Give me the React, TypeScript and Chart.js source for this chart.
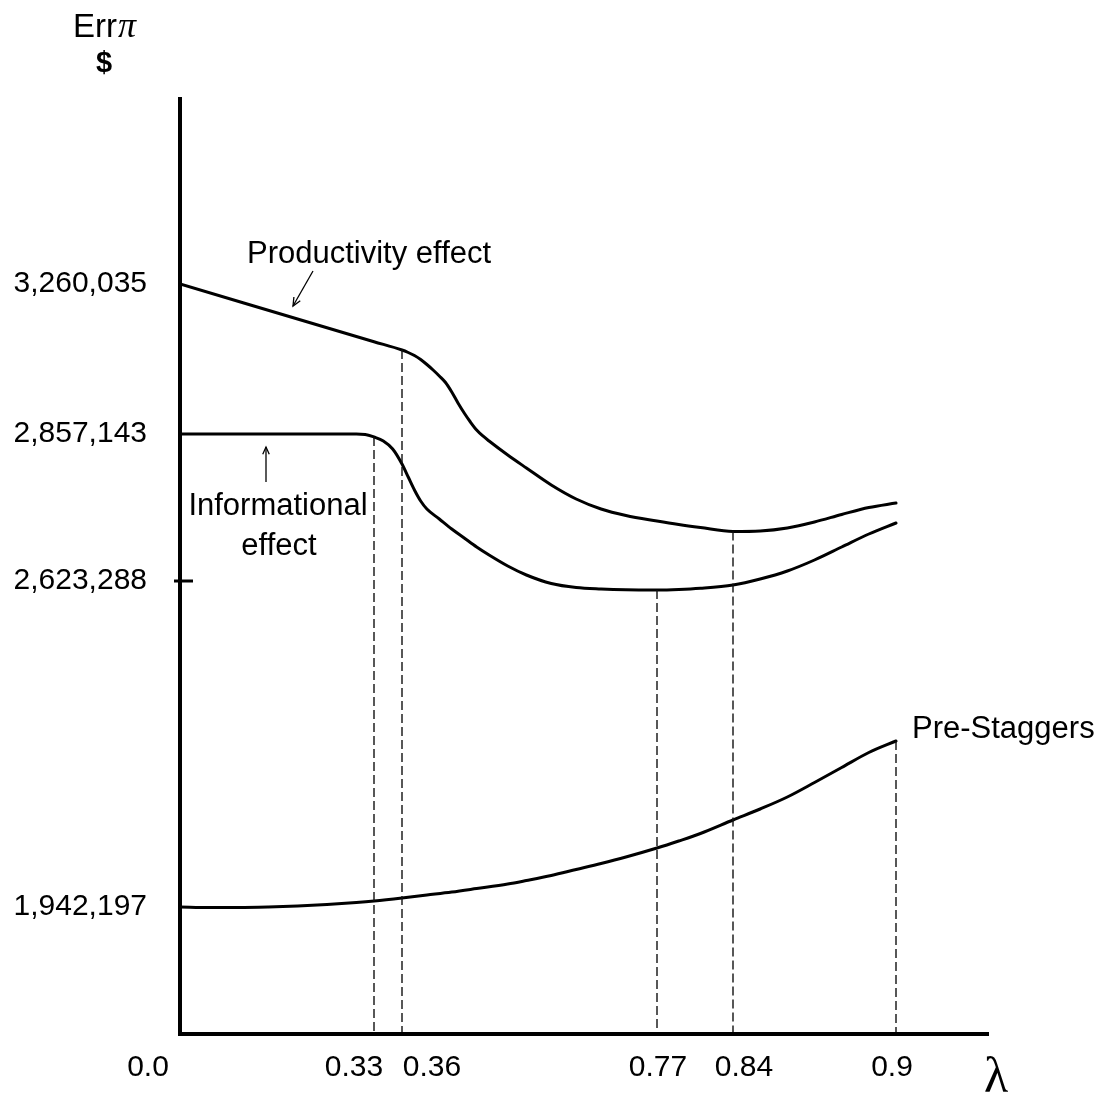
import React, { useEffect, useRef } from 'react';
import { Chart, LinearScale, registerables } from 'chart.js';

// ---------------- data ----------------
const productivityLambda = [0, 0.33, 0.36, 0.37, 0.38, 0.39, 0.40, 0.41, 0.42, 0.43, 0.44, 0.45, 0.46, 0.47, 0.48, 0.49, 0.50, 0.53, 0.56, 0.60, 0.64, 0.68, 0.72, 0.77, 0.79, 0.81, 0.84, 0.85, 0.86, 0.87, 0.88, 0.89, 0.90];
const productivityValues = [3260035, 3105061, 3082767, 3076052, 3067994, 3057250, 3043820, 3029047, 3012931, 2995472, 2969955, 2940409, 2913549, 2889375, 2867887, 2853969, 2846014, 2823741, 2803060, 2776014, 2753742, 2737833, 2727492, 2718742, 2713174, 2708401, 2702038, 2702833, 2707606, 2717151, 2729083, 2740219, 2747378];

const informationalLambda = [0, 0.30, 0.315, 0.33, 0.34, 0.35, 0.36, 0.37, 0.38, 0.39, 0.40, 0.42, 0.44, 0.46, 0.48, 0.50, 0.53, 0.56, 0.60, 0.64, 0.68, 0.72, 0.77, 0.79, 0.81, 0.84, 0.85, 0.86, 0.87, 0.88, 0.89, 0.90];
const informationalValues = [2857143, 2857143, 2856514, 2852378, 2846014, 2833287, 2809423, 2788742, 2768060, 2750560, 2737833, 2721924, 2706015, 2691697, 2677379, 2664651, 2647152, 2632833, 2618053, 2609696, 2606563, 2604891, 2604473, 2605518, 2608025, 2614919, 2626470, 2639197, 2656697, 2677379, 2698060, 2715560];

const preStaggersLambda = [0, 0.05, 0.10, 0.15, 0.20, 0.25, 0.30, 0.33, 0.36, 0.40, 0.44, 0.48, 0.53, 0.56, 0.60, 0.64, 0.68, 0.72, 0.77, 0.79, 0.81, 0.84, 0.85, 0.86, 0.87, 0.88, 0.89, 0.90];
const preStaggersValues = [1942197, 1941152, 1941152, 1942197, 1944286, 1947420, 1951598, 1954732, 1961000, 1967267, 1973535, 1980847, 1990249, 1997561, 2008007, 2020542, 2033077, 2046657, 2065460, 2080084, 2095753, 2123957, 2146939, 2172009, 2202303, 2233641, 2264979, 2289004];

const markerLambda = [0.33, 0.36, 0.77, 0.84, 0.9];
const markerSeries = ['informational', 'productivity', 'informational', 'productivity', 'preStaggers'];

const xTickValues = [0, 0.33, 0.36, 0.77, 0.84, 0.9];
const xTickLabels = ['0.0', '0.33', '0.36', '0.77', '0.84', '0.9'];
const yTickValues = [1942197, 2623288, 2857143, 3260035];
const yTickMarks = [2623288];

const X_MIN = 0;
const X_MAX = 1.0;
const Y_MIN = 1680000;
const Y_MAX = 3760000;

// ---------------- schematic (non-uniform) axis layout ----------------
// The original drawing is a schematic: labelled values sit at hand-chosen
// positions along each axis (given as a fraction of the axis length).
const X_KNOTS: [number, number][] = [
  [X_MIN, 0], [0.33, 194 / 809], [0.36, 222 / 809], [0.77, 477 / 809], [0.84, 553 / 809], [0.9, 716 / 809], [X_MAX, 1],
];
const Y_KNOTS: [number, number][] = [
  [Y_MIN, 0], [1942197, 127 / 937], [2623288, 453 / 937], [2857143, 600 / 937], [3260035, 750 / 937], [Y_MAX, 1],
];

function toFraction(knots: [number, number][], v: number) {
  for (let i = 0; i < knots.length - 1; i++) {
    const [v0, f0] = knots[i];
    const [v1, f1] = knots[i + 1];
    if (v <= v1 || i === knots.length - 2) {
      return f0 + ((v - v0) / (v1 - v0)) * (f1 - f0);
    }
  }
  return 0;
}
function fromFraction(knots: [number, number][], f: number) {
  for (let i = 0; i < knots.length - 1; i++) {
    const [v0, f0] = knots[i];
    const [v1, f1] = knots[i + 1];
    if (f <= f1 || i === knots.length - 2) {
      return v0 + ((f - f0) / (f1 - f0)) * (v1 - v0);
    }
  }
  return 0;
}

class SchematicScale extends LinearScale {
  static id = 'schematic';
  static defaults = LinearScale.defaults;
  getPixelForValue(value: number) {
    if (value === null || value === undefined || isNaN(value)) return NaN;
    const knots = (this as any).axis === 'x' ? X_KNOTS : Y_KNOTS;
    return this.getPixelForDecimal(toFraction(knots, value));
  }
  getValueForPixel(pixel: number) {
    const knots = (this as any).axis === 'x' ? X_KNOTS : Y_KNOTS;
    return fromFraction(knots, this.getDecimalForPixel(pixel));
  }
}

Chart.register(...registerables, SchematicScale as any);

const SANS = "'Liberation Sans', Arial, Helvetica, sans-serif";
const SERIF = "'Liberation Serif', 'Times New Roman', serif";
const X_LABEL_SHIFT = [-32, -20, 30, 1, 11, -4];

function zip(ls: number[], vs: number[]) {
  return ls.map((l, i) => ({ x: l, y: vs[i] }));
}

const seriesMap: Record<string, [number[], number[]]> = {
  productivity: [productivityLambda, productivityValues],
  informational: [informationalLambda, informationalValues],
  preStaggers: [preStaggersLambda, preStaggersValues],
};

function drawArrow(ctx: CanvasRenderingContext2D, x1: number, y1: number, x2: number, y2: number, head = 8) {
  ctx.beginPath();
  ctx.moveTo(x1, y1);
  ctx.lineTo(x2, y2);
  ctx.stroke();
  const a = Math.atan2(y2 - y1, x2 - x1);
  ctx.beginPath();
  ctx.moveTo(x2 - head * Math.cos(a - 0.42), y2 - head * Math.sin(a - 0.42));
  ctx.lineTo(x2, y2);
  ctx.lineTo(x2 - head * Math.cos(a + 0.42), y2 - head * Math.sin(a + 0.42));
  ctx.stroke();
}

const decorPlugin = {
  id: 'decor',
  afterDraw(chart: any) {
    const { ctx, chartArea: ca } = chart;
    const xs = chart.scales.x;
    const ys = chart.scales.y;
    ctx.save();
    ctx.fillStyle = '#000';
    ctx.strokeStyle = '#000';

    // axes
    ctx.lineWidth = 4;
    ctx.lineJoin = 'miter';
    ctx.beginPath();
    ctx.moveTo(ca.left, ca.top);
    ctx.lineTo(ca.left, ca.bottom);
    ctx.lineTo(ca.right, ca.bottom);
    ctx.stroke();

    // y tick marks
    ctx.lineWidth = 3;
    yTickMarks.forEach((v) => {
      const py = ys.getPixelForValue(v);
      ctx.beginPath();
      ctx.moveTo(ca.left - 6, py);
      ctx.lineTo(ca.left + 13, py);
      ctx.stroke();
    });

    // y tick labels
    ctx.font = `30px ${SANS}`;
    ctx.textAlign = 'right';
    ctx.textBaseline = 'middle';
    yTickValues.forEach((v) => {
      ctx.fillText(v.toLocaleString('en-US'), ca.left - 33, ys.getPixelForValue(v));
    });

    // x tick labels
    ctx.textAlign = 'center';
    xTickValues.forEach((v, i) => {
      ctx.fillText(xTickLabels[i], xs.getPixelForValue(v) + X_LABEL_SHIFT[i], ca.bottom + 34);
    });

    // axis titles
    ctx.textBaseline = 'alphabetic';
    ctx.font = `50px ${SERIF}`;
    ctx.fillText('λ', ca.right + 7, ca.bottom + 58);

    const cx = ca.left - 76;
    ctx.font = `33px ${SANS}`;
    const wErr = ctx.measureText('Err').width;
    ctx.font = `italic 36px ${SERIF}`;
    const wPi = ctx.measureText('π').width;
    const startX = cx - (wErr + wPi) / 2;
    ctx.textAlign = 'left';
    ctx.font = `33px ${SANS}`;
    ctx.fillText('Err', startX, 37);
    ctx.font = `italic 36px ${SERIF}`;
    ctx.fillText('π', startX + wErr + 1, 37);
    ctx.textAlign = 'center';
    ctx.font = `bold 29px ${SANS}`;
    ctx.fillText('$', cx, 72);

    // annotations
    ctx.font = `31px ${SANS}`;
    ctx.textAlign = 'left';
    ctx.fillText('Productivity effect', ca.left + 67, 263);
    ctx.textAlign = 'center';
    ctx.fillText('Informational', ca.left + 98, 515);
    ctx.fillText('effect', ca.left + 99, 555);

    const lastL = preStaggersLambda[preStaggersLambda.length - 1];
    const lastV = preStaggersValues[preStaggersValues.length - 1];
    ctx.textAlign = 'left';
    ctx.fillText('Pre-Staggers', xs.getPixelForValue(lastL) + 16, ys.getPixelForValue(lastV) - 3);

    ctx.lineWidth = 1.3;
    drawArrow(ctx, ca.left + 133, 271, ca.left + 113, 306, 9);
    drawArrow(ctx, ca.left + 86, 482, ca.left + 86, 447, 8);

    ctx.restore();
  },
};

export default function App() {
  const ref = useRef<HTMLCanvasElement>(null);
  useEffect(() => {
    const markerDatasets = markerLambda.map((l, i) => {
      const [ls, vs] = seriesMap[markerSeries[i]];
      const v = vs[ls.indexOf(l)];
      return {
        label: `marker-${l}`,
        data: [{ x: l, y: v }, { x: l, y: Y_MIN }],
        borderColor: '#111',
        borderWidth: 1.4,
        borderDash: [9, 4],
        pointRadius: 0,
        fill: false,
        tension: 0,
      };
    });
    const curve = (label: string, ls: number[], vs: number[]) => ({
      label,
      data: zip(ls, vs),
      borderColor: '#000',
      borderWidth: 3,
      pointRadius: 0,
      fill: false,
      cubicInterpolationMode: 'monotone' as const,
      borderCapStyle: 'round' as const,
      borderJoinStyle: 'round' as const,
    });
    const chart = new Chart(ref.current as HTMLCanvasElement, {
      type: 'line',
      data: {
        datasets: [
          ...markerDatasets,
          curve('Productivity effect', productivityLambda, productivityValues),
          curve('Informational effect', informationalLambda, informationalValues),
          curve('Pre-Staggers', preStaggersLambda, preStaggersValues),
        ] as any,
      },
      options: {
        animation: false,
        responsive: false,
        devicePixelRatio: 1,
        events: [],
        layout: { padding: { left: 180, top: 97, right: 117, bottom: 64 } },
        plugins: { legend: { display: false }, tooltip: { enabled: false } },
        scales: {
          x: { type: 'schematic' as any, min: X_MIN, max: X_MAX, display: false },
          y: { type: 'schematic' as any, min: Y_MIN, max: Y_MAX, display: false },
        },
      } as any,
      plugins: [decorPlugin],
    });
    return () => chart.destroy();
  }, []);
  return (
    <div style={{ position: 'absolute', left: 0, top: 0, width: 1106, height: 1098, background: '#fff' }}>
      <canvas ref={ref} width={1106} height={1098} style={{ display: 'block' }} />
    </div>
  );
}
